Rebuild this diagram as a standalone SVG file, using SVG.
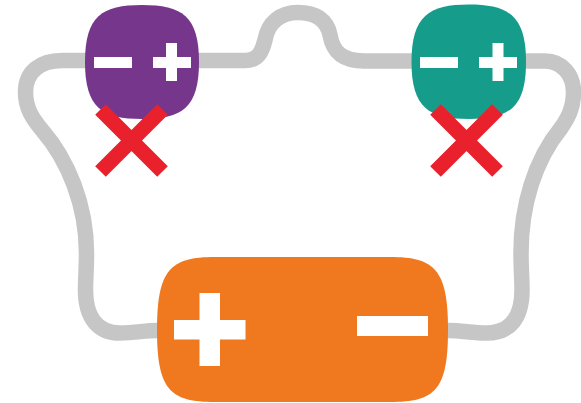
<svg xmlns="http://www.w3.org/2000/svg" width="581" height="403" viewBox="0 0 581 403">
<style>
.wire{fill:none;stroke:#c6c6c6;stroke-width:15.500}
.sym{fill:#fff}
.x{fill:none;stroke:#e9212d;stroke-width:15}
</style>
<rect width="581" height="403" fill="#fff"/>
<g id="connectors">
<path class="wire" d="M157,330.500 C145,330.500 135,333 120,333 C98,333 85.500,318 85.500,290 C85.500,278 86.500,270 86.500,253 C86.500,205 68,160 42,130 C32,118 25.500,108 25.500,92 C25.500,72 40,60.500 62,60.500 H245 C258,60.500 262,52 265,40 C268,22 281,12.500 298,12.500 C316,12.500 327,20 330,35 C333,52 342,61 364,61 H545 C562,61 573.500,75 573.500,92 C573.500,108 568,118 561,128 C535,160 521,205 521,253 C521,270 522,278 522,290 C522,318 510,333 487,333 C472,333 462,330.500 448,330.500"/>
</g>
<g id="node-purple">
<path fill="#76368c" d="M142,5 C182,5 199,16 199,62 C199,108 182,119 142,119 C102,119 85,108 85,62 C85,16 102,5 142,5 Z"/>
<rect class="sym" x="94" y="57" width="38" height="11"/>
<rect class="sym" x="153" y="57" width="38" height="11"/>
<rect class="sym" x="166" y="43" width="11" height="38"/>
</g>
<g id="node-teal">
<path fill="#169c8a" d="M469,4.500 C509,4.500 526,16 526,62 C526,108 509,119 469,119 C429,119 411.500,108 411.500,62 C411.500,16 429,4.500 469,4.500 Z"/>
<rect class="sym" x="420" y="57" width="38" height="11"/>
<rect class="sym" x="479" y="57" width="38" height="11"/>
<rect class="sym" x="492.500" y="43" width="11" height="38"/>
</g>
<g id="node-orange">
<path fill="#f0781e" d="M215,257 H390 C435,257 448,270 448,330 C448,390 435,402 390,402 H215 C170,402 157,390 157,330 C157,270 170,257 215,257 Z"/>
<rect class="sym" x="174" y="320" width="71.500" height="19.500"/>
<rect class="sym" x="199.500" y="293" width="20.500" height="73"/>
<rect class="sym" x="357" y="316" width="71" height="20"/>
</g>
<g id="cross-left">
<path class="x" d="M100.500,109.500 L162.500,171.500 M162.500,109.500 L100.500,171.500"/>
</g>
<g id="cross-right">
<path class="x" d="M435.500,109.500 L497.500,171.500 M497.500,109.500 L435.500,171.500"/>
</g>
</svg>
